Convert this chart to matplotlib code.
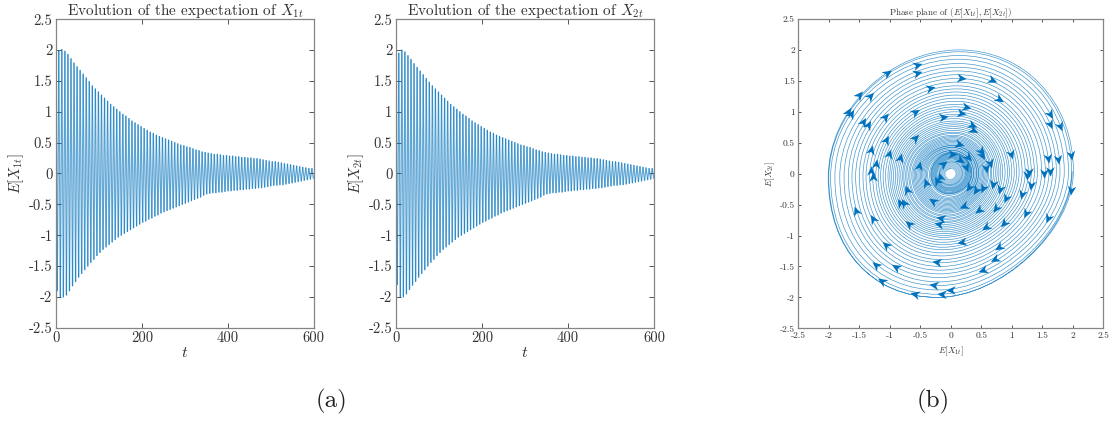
import numpy as np
import matplotlib
matplotlib.use("Agg")
import matplotlib.pyplot as plt
from matplotlib.collections import LineCollection
from matplotlib.path import Path
from matplotlib.patches import PathPatch
from matplotlib.markers import MarkerStyle
from matplotlib.transforms import Affine2D

x1_upper = [1.65, 1.99, 2.01, 1.98, 1.93, 1.86, 1.79, 1.73, 1.67, 1.61,
            1.55, 1.49, 1.42, 1.37, 1.32, 1.27, 1.22, 1.17, 1.12, 1.08,
            1.04, 1.00, 0.96, 0.93, 0.89, 0.85, 0.82, 0.79, 0.76, 0.73,
            0.70, 0.67, 0.65, 0.62, 0.60, 0.58, 0.56, 0.54, 0.52, 0.50,
            0.48, 0.46, 0.45, 0.43, 0.42, 0.40, 0.38, 0.37, 0.35, 0.34,
            0.33, 0.32, 0.31, 0.31, 0.30, 0.29, 0.29, 0.28, 0.28, 0.27,
            0.27, 0.26, 0.26, 0.25, 0.25, 0.24, 0.24, 0.23, 0.22, 0.21,
            0.20, 0.19, 0.19, 0.18, 0.17, 0.16, 0.15, 0.14, 0.13, 0.12,
            0.11, 0.10, 0.09, 0.08, 0.08]
x1_lower = [-1.90, -2.01, -2.00, -1.97, -1.90, -1.82, -1.75, -1.68,
            -1.62, -1.56, -1.50, -1.44, -1.39, -1.33, -1.28,
            -1.23, -1.19, -1.15, -1.11, -1.07, -1.03, -1.00,
            -0.97, -0.94, -0.91, -0.88, -0.85, -0.82, -0.79,
            -0.77, -0.74, -0.72, -0.69, -0.67, -0.64, -0.62,
            -0.60, -0.58, -0.56, -0.54, -0.52, -0.50, -0.48,
            -0.46, -0.44, -0.42, -0.40, -0.38, -0.35, -0.33,
            -0.32, -0.31, -0.31, -0.30, -0.30, -0.29, -0.28,
            -0.28, -0.27, -0.27, -0.26, -0.26, -0.25, -0.25, -0.24, -0.24, -0.23, -0.23, -0.22, -0.21, -0.20,
            -0.19, -0.19, -0.18, -0.18, -0.17, -0.16, -0.15, -0.14, -0.13, -0.12, -0.11, -0.10, -0.09, -0.08]
x2_upper = [1.45, 1.95, 2.00, 1.97, 1.91, 1.85, 1.78, 1.72, 1.66, 1.60,
            1.54, 1.48, 1.42, 1.37, 1.32, 1.27, 1.22, 1.17, 1.12, 1.08,
            1.04, 1.00, 0.96, 0.93, 0.89, 0.85, 0.82, 0.79, 0.76, 0.73,
            0.70, 0.67, 0.65, 0.62, 0.60, 0.58, 0.56, 0.54, 0.52, 0.50,
            0.48, 0.46, 0.45, 0.43, 0.42, 0.40, 0.38, 0.37, 0.35, 0.34,
            0.33, 0.32, 0.31, 0.31, 0.30, 0.29, 0.29, 0.28, 0.28, 0.27,
            0.27, 0.26, 0.26, 0.25, 0.25, 0.24, 0.24, 0.23, 0.22, 0.21,
            0.20, 0.19, 0.19, 0.18, 0.17, 0.16, 0.15, 0.14, 0.13, 0.12,
            0.11, 0.10, 0.09, 0.08, 0.08]
x2_lower = [-1.80, -2.00, -2.00, -1.95, -1.88, -1.81, -1.75, -1.68,
            -1.62, -1.56, -1.50, -1.44, -1.39, -1.33, -1.28,
            -1.23, -1.19, -1.15, -1.11, -1.07, -1.03, -1.00,
            -0.97, -0.94, -0.91, -0.88, -0.85, -0.82, -0.79,
            -0.77, -0.74, -0.72, -0.69, -0.67, -0.64, -0.62,
            -0.60, -0.58, -0.56, -0.54, -0.52, -0.50, -0.48,
            -0.46, -0.44, -0.42, -0.40, -0.38, -0.35, -0.33,
            -0.32, -0.31, -0.31, -0.30, -0.30, -0.29, -0.28,
            -0.28, -0.27, -0.27, -0.26, -0.26, -0.25, -0.25, -0.24, -0.24, -0.23, -0.23, -0.22, -0.21, -0.20,
            -0.19, -0.19, -0.18, -0.18, -0.17, -0.16, -0.15, -0.14, -0.13, -0.12, -0.11, -0.10, -0.09, -0.08]
cycle_period = 7.1

arrow_x = [-0.56, -0.55, -1.05, 0.16, 0.68, -0.34, -1.50, -1.32, 0.79, 0.25, 0.17, -1.68, -1.63, -0.59, -1.08, -0.12,
           1.63, 1.63, 1.79, -1.44, -1.36, 0.35, 0.37, -1.07, -0.58, 0.14, -1.31, -1.02, -0.83, 0.50, 0.51, 0.02,
           0.29, 0.99, 1.60, 1.76, 1.97, 0.64, 0.58, -1.23, -0.52, -1.31, -1.27, 1.25, 1.29, 1.53, 1.63,
           1.97, 1.32, 0.69, 0.80, 0.53, 0.42, 0.30, -0.40, -0.23, -0.71, 1.17, 0.91, -0.29, -0.84, -0.77, 0.22,
           0.46, 0.74, -1.56, 1.24, 1.59, -0.16, -1.28, 0.87, -0.69, -0.19, 0.57, 0.19, -1.06, 0.79, 0.73, -0.22,
           -1.22, -0.90, 0.53, -1.12, -0.28, 0.01, -0.58, -0.14, -0.13, -0.17, 0.25, 0.15]
arrow_y = [1.76, 1.62, 1.62, 1.54, 1.52, 1.38, 1.27, 1.25, 1.21, 1.07, 0.98, 0.99, 0.96, 0.99, 0.91, 0.92,
           0.96, 0.80, 0.77, 0.83, 0.78, 0.79, 0.70, 0.55, 0.57, 0.48, 0.38, 0.32, 0.25, 0.37, 0.30, 0.31,
           0.27, 0.32, 0.25, 0.24, 0.30, 0.18, 0.09, 0.15, 0.12, 0.05, -0.05, -0.02, 0.02, 0.01, 0.04,
           -0.26, -0.18, -0.17, -0.25, -0.24, -0.27, -0.21, -0.15, -0.12, -0.26, -0.33, -0.40, -0.45, -0.48, -0.48,
           -0.52, -0.59, -0.56, -0.61, -0.63, -0.72, -0.72, -0.74, -0.79, -0.82, -0.82, -0.87, -1.11, -1.16, -1.19,
           -1.38, -1.43, -1.47, -1.51, -1.56, -1.73, -1.80, -1.88, -1.95, -1.95, 0.16, -0.05, 0.10, 0.22]

time_ticks = [0, 200, 400, 600]
level_ticks = [-2.5, -2, -1.5, -1, -0.5, 0, 0.5, 1, 1.5, 2, 2.5]
level_labels = ["-2.5", "-2", "-1.5", "-1", "-0.5", "0", "0.5", "1", "1.5", "2", "2.5"]

BLUE = "#0072BD"
FRAME = "#858585"
TEXT = "#333333"
W, H = 1117, 425

plt.rcParams["font.family"] = ["cmr10", "DejaVu Sans"]
plt.rcParams["mathtext.fontset"] = "cm"
plt.rcParams["axes.unicode_minus"] = False

fig = plt.figure(figsize=(W / 100, H / 100), dpi=100)


def add_axes(left, top, right, bottom):
    return fig.add_axes([left / W, 1 - bottom / H, (right - left) / W, (bottom - top) / H])


def style(ax, size, tick_len):
    for s in ax.spines.values():
        s.set_color(FRAME)
        s.set_linewidth(0.9)
    ax.tick_params(direction="in", top=True, right=True, length=tick_len, width=0.7, color="#555555",
                   labelsize=size, labelcolor=TEXT, pad=2.5)


def series(upper, lower):
    t, v = [0.0], [upper[0]]
    for k in range(len(lower)):
        t.append(3.0 + cycle_period * k)
        v.append(lower[k])
        if k + 1 < len(upper):
            t.append(6.5 + cycle_period * k)
            v.append(upper[k + 1])
    return np.array(t), np.array(v)


def panel(ax, upper, lower, title, ylabel):
    t, v = series(upper, lower)
    pts = np.column_stack([t, v])
    # separate strokes so the tips, where they overlap, read darker
    ax.add_collection(LineCollection(np.stack([pts[:-1], pts[1:]], axis=1), colors=BLUE, linewidths=0.9,
                                     alpha=0.6, capstyle="round"))
    ax.set_xlim(0, 600)
    ax.set_ylim(-2.5, 2.5)
    ax.set_xticks(time_ticks)
    ax.set_xticklabels([str(v) for v in time_ticks])
    ax.set_yticks(level_ticks)
    ax.set_yticklabels(level_labels)
    style(ax, 10.5, 3.5)
    ax.set_title(title, fontsize=11, color=TEXT, pad=3)
    ax.set_xlabel(r"$t$", fontsize=11.5, color=TEXT, labelpad=1)
    ax.set_ylabel(ylabel, fontsize=10.5, color=TEXT, labelpad=2)


ax1 = add_axes(56, 19.3, 313.7, 327.7)
panel(ax1, x1_upper, x1_lower, r"Evolution of the expectation of $X_{1t}$", r"$E[X_{1t}]$")
ax2 = add_axes(396, 19.3, 654, 327.7)
panel(ax2, x2_upper, x2_lower, r"Evolution of the expectation of $X_{2t}$", r"$E[X_{2t}]$")

ax3 = add_axes(798.3, 19, 1103.3, 328.3)
# smooth clockwise spiral through the read extremes: right, bottom, left, top
anchors = []
for a, b, c, d in zip(x1_upper[1:], x2_lower[1:], x1_lower[1:], x2_upper[2:]):
    anchors += [(a, 0.02 * a), (-0.11 * abs(b), b), (c, -0.03 * abs(c)), (0.07 * d, d)]
# bulge per quadrant at full amplitude: right-bottom, bottom-left, left-top, top-right
kappas = [0.47, 0.60, 0.53, 0.57]


def spiral(first, last, lw, alpha):
    verts = [anchors[first]]
    codes = [Path.MOVETO]
    for i in range(first, last):
        p, q = anchors[i], anchors[i + 1]
        amp = min(1.0, max(abs(p[0]), abs(p[1])) / 2.0)
        k = 0.552 + (kappas[i % 4] - 0.552) * amp
        if i % 2 == 0:
            c1, c2 = (p[0], p[1] + k * (q[1] - p[1])), (q[0] + k * (p[0] - q[0]), q[1])
        else:
            c1, c2 = (p[0] + k * (q[0] - p[0]), p[1]), (q[0], q[1] + k * (p[1] - q[1]))
        verts += [c1, c2, q]
        codes += [Path.CURVE4] * 3
    ax3.add_patch(PathPatch(Path(verts, codes), fill=False, edgecolor=BLUE, lw=lw, alpha=alpha))


inner_start = 4 * 50
spiral(0, inner_start, 0.48, 0.75)
spiral(inner_start, len(anchors) - 1, 0.28, 0.6)

head = Path([(0.9, 0), (-0.75, 0.75), (-0.25, 0), (-0.75, -0.75), (0.9, 0)],
            [Path.MOVETO, Path.LINETO, Path.LINETO, Path.LINETO, Path.CLOSEPOLY])
for x, y in zip(arrow_x, arrow_y):
    angle = np.degrees(np.arctan2(-x, y))
    marker = MarkerStyle(head, transform=Affine2D().rotate_deg(angle))
    ax3.plot([x], [y], marker=marker, ms=7.5, color=BLUE, mec="none", ls="none", zorder=3)

ax3.set_xlim(-2.5, 2.5)
ax3.set_ylim(-2.5, 2.5)
ax3.set_xticks(level_ticks)
ax3.set_xticklabels(level_labels)
ax3.set_yticks(level_ticks)
ax3.set_yticklabels(level_labels)
style(ax3, 6.8, 2.5)
ax3.set_title(r"Phase plane of $(E[X_{1t}],E[X_{2t}])$", fontsize=6.5, color=TEXT, pad=3)
ax3.set_xlabel(r"$E[X_{1t}]$", fontsize=6.5, color=TEXT, labelpad=3)
ax3.set_ylabel(r"$E[X_{2t}]$", fontsize=6.5, color=TEXT, labelpad=2)

fig.text(331 / W, 1 - 401 / H, "(a)", fontsize=18, color="#222222", ha="center", va="center")
fig.text(933 / W, 1 - 401 / H, "(b)", fontsize=18, color="#222222", ha="center", va="center")

fig.savefig("out.png", dpi=100)
